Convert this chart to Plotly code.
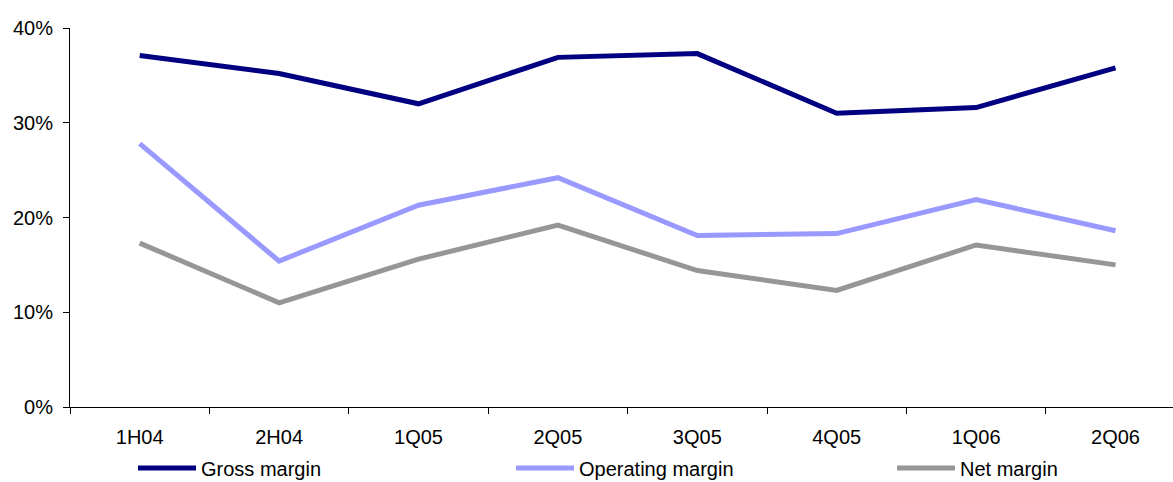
import plotly.graph_objects as go

# Half-year / quarter periods on the category axis
periods = ["1H04", "2H04", "1Q05", "2Q05", "3Q05", "4Q05", "1Q06", "2Q06"]

# Margins as fractions of revenue
gross_margin = [0.371, 0.352, 0.320, 0.369, 0.373, 0.310, 0.316, 0.358]
operating_margin = [0.278, 0.154, 0.213, 0.242, 0.181, 0.183, 0.219, 0.186]
net_margin = [0.173, 0.110, 0.156, 0.192, 0.144, 0.123, 0.171, 0.150]

series = [
    ("Gross margin", gross_margin, "#000080", "legend"),
    ("Operating margin", operating_margin, "#9999FF", "legend2"),
    ("Net margin", net_margin, "#969696", "legend3"),
]

FONT = "Liberation Sans, Arial, sans-serif"
FS = 20

W, H = 1173, 482
# plot area geometry (px) used to place the legend entries under the axis
PLOT_LEFT, PLOT_W = 70, 1103

fig = go.Figure()
for name, values, color, leg in series:
    fig.add_trace(go.Scatter(
        x=periods, y=values, name=name, mode="lines",
        line=dict(color=color, width=5),
        legend=leg,
    ))


def legend_at(px_left, px_mid=468):
    return dict(
        orientation="h",
        x=(px_left - PLOT_LEFT) / PLOT_W, xanchor="left",
        yref="container", y=(H - px_mid) / H, yanchor="middle",
        itemwidth=58,
        font=dict(family=FONT, size=FS, color="black"),
        bgcolor="rgba(0,0,0,0)",
    )


fig.update_layout(
    width=W, height=H,
    margin=dict(l=70, r=0, t=28, b=75),
    paper_bgcolor="white", plot_bgcolor="white",
    font=dict(family=FONT, size=FS, color="black"),
    showlegend=True,
    legend=legend_at(133),
    legend2=legend_at(511),
    legend3=legend_at(892),
    xaxis=dict(
        type="category",
        range=[-0.5, -0.5 + PLOT_W / 139.4],
        showline=True, linecolor="black", linewidth=1,
        ticks="outside", ticklen=6, tickcolor="black",
        tickson="boundaries",
        showgrid=False, zeroline=False,
        tickfont=dict(family=FONT, size=FS, color="black"),
        ticklabelstandoff=12,
    ),
    yaxis=dict(
        range=[0, 0.4], dtick=0.1, tickformat=".0%",
        showline=True, linecolor="black", linewidth=1,
        ticks="outside", ticklen=6, tickcolor="black",
        showgrid=False, zeroline=False,
        tickfont=dict(family=FONT, size=FS, color="black"),
        ticklabelstandoff=6,
    ),
)

fig.write_html("out.html")
